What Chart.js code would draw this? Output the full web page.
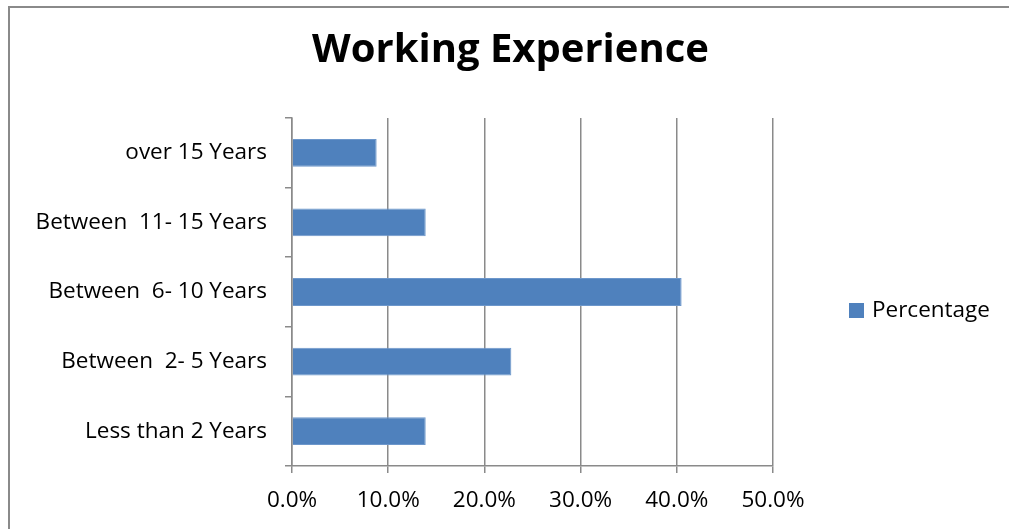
<!DOCTYPE html>
<html>
<head>
<meta charset="utf-8">
<script src="https://cdn.jsdelivr.net/npm/chart.js@4"></script>
<style>
  html, body { margin: 0; padding: 0; background: #fff; overflow: hidden; }
  #wrap { position: relative; width: 1009px; height: 529px; overflow: hidden; }
  #frame { position: absolute; left: 8px; top: 6px; right: 0; bottom: 0;
           border-left: 2px solid #8a8a8a; border-top: 2px solid #8a8a8a; }
  #chart { position: absolute; left: 0; top: 0; }
</style>
</head>
<body>
<div id="wrap">
  <div id="frame"></div>
  <canvas id="chart" width="1009" height="529"></canvas>
</div>
<script>
const categories = ["Less than 2 Years", "Between  2- 5 Years", "Between  6- 10 Years", "Between  11- 15 Years", "over 15 Years"];
const percentage = [13.9, 22.8, 40.5, 13.9, 8.8];
const xTicks = [0, 10, 20, 30, 40, 50];

const FONT = "'Open Sans', Lato, sans-serif";
const AXIS = "#8a8a8a";

// legend drawn beside the plot, like the Excel one
const sideLegend = {
  id: "sideLegend",
  afterDraw(chart) {
    const { ctx, chartArea } = chart;
    const ds = chart.data.datasets[0];
    const x = chartArea.right + 76;
    const y = (chartArea.top + chartArea.bottom) / 2 + 19;
    ctx.save();
    ctx.fillStyle = ds.backgroundColor;
    ctx.fillRect(x, y - 8, 15, 15);
    ctx.fillStyle = "#000";
    ctx.font = "22.5px " + FONT;
    ctx.textBaseline = "middle";
    ctx.fillText(ds.label, x + 23, y);
    ctx.restore();
  }
};

new Chart(document.getElementById("chart"), {
  type: "bar",
  data: {
    labels: categories,
    datasets: [{
      label: "Percentage",
      data: percentage,
      backgroundColor: "#4F81BD",
      borderColor: "#6d97cb",
      borderWidth: 1,
      barPercentage: 0.4,
      categoryPercentage: 1
    }]
  },
  options: {
    indexAxis: "y",
    responsive: false,
    animation: false,
    layout: { padding: { left: 12, right: 0, top: 0, bottom: 0 } },
    plugins: {
      legend: { display: false },
      tooltip: { enabled: false },
      title: {
        display: true,
        text: "Working Experience",
        color: "#000",
        font: { family: FONT, size: 40, weight: "bold", lineHeight: 1.2 },
        padding: { top: 27, bottom: 43 }
      }
    },
    scales: {
      x: {
        min: 0, max: 50,
        afterBuildTicks(scale) { scale.ticks = xTicks.map(v => ({ value: v })); },
        afterFit(scale) { scale.height = 63; },
        grid: { color: AXIS, lineWidth: 1.5, tickLength: 7 },
        border: { color: AXIS, width: 1.5 },
        ticks: {
          color: "#000",
          padding: 14,
          font: { family: FONT, size: 22.5 },
          callback: v => v.toFixed(1) + "%"
        }
      },
      y: {
        reverse: true,
        afterFit(scale) { scale.width = 280; },
        grid: { offset: true, drawOnChartArea: false, color: AXIS, lineWidth: 1.5, tickLength: 7 },
        border: { color: AXIS, width: 1.5 },
        ticks: { color: "#000", padding: 18, font: { family: FONT, size: 22.5 } }
      },
      // empty right-hand axis that keeps room for the legend
      yRight: {
        type: "category",
        position: "right",
        afterFit(scale) { scale.width = 236; },
        grid: { display: false },
        border: { display: false },
        ticks: { display: false }
      }
    }
  },
  plugins: [sideLegend]
});
</script>
</body>
</html>
